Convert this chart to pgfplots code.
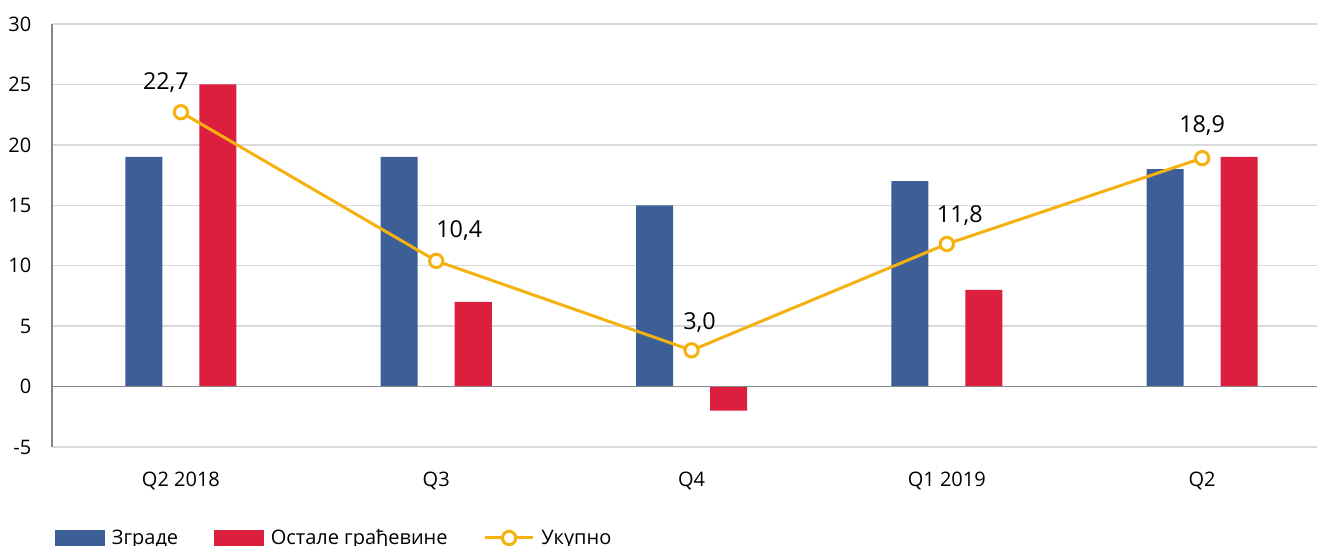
\documentclass[border=0pt]{standalone}
\usepackage{pgfplots}
\pgfplotsset{compat=1.18}
\usepackage{fontspec}
\setmainfont{Open Sans}
\definecolor{cblue}{RGB}{61,95,151}
\definecolor{cred}{RGB}{220,31,62}
\definecolor{cyel}{RGB}{244,177,16}
\definecolor{cgrid}{RGB}{217,217,217}
\definecolor{caxis}{RGB}{134,134,134}
\newcommand\tickfont{\fontsize{15}{18}\selectfont}
\newcommand\labfont{\fontsize{17.5}{20}\selectfont}
\begin{document}
\begin{tikzpicture}
\path[use as bounding box] (0pt,0pt) rectangle (987.75pt,409.5pt);
\begin{axis}[
  at={(39pt,74.25pt)}, anchor=south west,
  scale only axis, width=948.75pt, height=317.25pt,
  xmin=-0.505, xmax=4.45, ymin=-5, ymax=30,
  ytick={-5,0,...,30},
  xtick={0,...,4}, xticklabels={Q2 2018,Q3,Q4,Q1 2019,Q2},
  /pgf/number format/assume math mode=true,
  major tick length=0pt,
  ymajorgrids, grid style={cgrid, line width=1.1pt},
  axis x line*=bottom, axis y line*=left,
  x axis line style={cgrid, line width=1.1pt, -},
  y axis line style={caxis, line width=1.1pt, -},
  ticklabel style={font=\tickfont, text=black},
  yticklabel style={xshift=-12pt},
  xticklabel style={yshift=-15pt},
  legend style={at={(0.0024,-0.215)}, anchor=west, draw=none, fill=none,
    inner sep=0pt, font=\tickfont, legend columns=3,
    nodes={inner xsep=5pt},
    /tikz/every even column/.append style={column sep=22pt}},
]
\addplot[ybar, bar width=0.145, bar shift=-0.145, fill=cblue, draw=none,
  legend image code/.code={\fill[cblue] (0pt,-6pt) rectangle (37.5pt,6pt);}]
  coordinates {(0,19) (1,19) (2,15) (3,17) (4,18)};
\addlegendentry{Зграде}
\addplot[ybar, bar width=0.145, bar shift=0.145, fill=cred, draw=none,
  legend image code/.code={\fill[cred] (0pt,-6pt) rectangle (37.5pt,6pt);}]
  coordinates {(0,25) (1,7) (2,-2) (3,8) (4,19)};
\addlegendentry{Остале грађевине}
\draw[caxis, line width=1.1pt] (axis cs:-0.505,0) -- (axis cs:4.45,0);
\addplot[cyel, line width=2.25pt, mark=*, mark size=5pt,
  mark options={fill=white, draw=cyel, line width=2.25pt},
  point meta=explicit,
  visualization depends on={value \thisrow{dx} \as \dx},
  visualization depends on={value \thisrow{dy} \as \dy},
  nodes near coords={\pgfmathprintnumber[fixed,fixed zerofill,precision=1,use comma,assume math mode=true]{\pgfplotspointmeta}},
  nodes near coords style={font=\labfont, text=black, anchor=center, xshift=\dx*0.75pt, yshift=\dy*0.75pt},
  legend image code/.code={\draw[cyel, line width=2.25pt] (0pt,0pt) -- (36pt,0pt);
    \draw[cyel, fill=white, line width=2.25pt] (18pt,0pt) circle (5pt);}]
  table[x=x, y=y, meta=y] {
x y dx dy
0 22.7 -15 30
1 10.4 23 30
2 3.0 8 28
3 11.8 13 28
4 18.9 0 33
};
\addlegendentry{Укупно}
\end{axis}
\end{tikzpicture}
\end{document}
